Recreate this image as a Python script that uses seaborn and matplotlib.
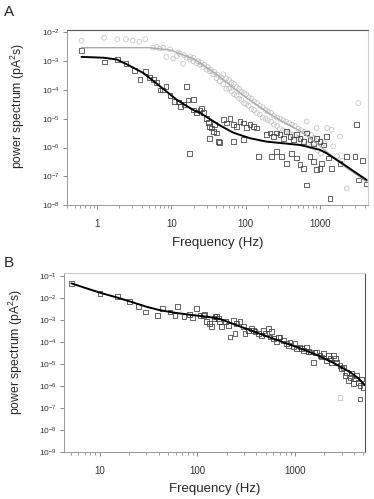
import numpy as np
import pandas as pd
import matplotlib
matplotlib.use("Agg")
import matplotlib.pyplot as plt
import matplotlib.ticker as mticker
import seaborn as sns

# --- panel A: dark squares (data) -------------------------------------------
a_sq_f = [0.62, 1.25, 1.88, 2.46, 3.2, 3.8, 4.46, 5.05, 5.7, 6.35, 7.05, 7.65, 8.5, 9.6,
          10.96, 12.4, 13.3, 14.8, 16.1, 16.8, 17.8, 19.7, 19.7, 21.8, 24.3, 25.6, 26.9,
          29.8, 31.4, 33, 33, 34.9, 36.7, 38.6, 40.8, 42.8, 45, 50, 55.7, 61.7, 68.3, 68.3,
          75.9, 84, 93, 93, 103.5, 114.6, 127, 141, 148, 192, 213, 224, 236, 262, 262, 290,
          306, 322, 357, 357, 396, 417, 439, 487, 487, 540, 540, 598, 598, 664, 664, 736,
          736, 815, 815, 905, 905, 1003, 1003, 1057, 1111, 1235, 1297, 1368, 1442, 1864,
          2295, 2965, 3130, 3290, 3770, 4265]
a_sq_p = [2.4e-3, 9.3e-4, 1.15e-3, 8.1e-4, 4.6e-4, 2.3e-4, 4.3e-4, 2.75e-4, 2.3e-4, 1.8e-4,
          1.0e-4, 1.0e-4, 1.3e-4, 6.3e-5, 4.0e-5, 3.8e-5, 2.7e-5, 3.1e-5, 1.3e-4, 4.5e-5,
          6.3e-7, 4.6e-5, 2.0e-5, 1.6e-5, 1.9e-5, 2.3e-5, 1.7e-5, 1.05e-5, 7.6e-6, 5.4e-6,
          2.1e-6, 4.8e-6, 3.5e-6, 6.2e-6, 3.2e-6, 1.6e-6, 1.45e-6, 9.3e-6, 7.1e-6, 1.05e-5,
          6.2e-6, 1.6e-6, 5.4e-6, 8.1e-6, 7.1e-6, 1.9e-6, 5.0e-6, 6.2e-6, 5.4e-6, 4.8e-6,
          4.9e-7, 2.75e-6, 3.2e-6, 4.9e-7, 2.4e-6, 3.2e-6, 7.2e-7, 2.75e-6, 4.9e-7, 2.1e-6,
          3.6e-6, 2.8e-7, 2.4e-6, 6.3e-7, 1.9e-6, 2.75e-6, 4.3e-7, 2.1e-6, 2.5e-7, 1.6e-6,
          1.9e-7, 3.2e-6, 5.0e-8, 1.9e-6, 4.9e-7, 1.4e-6, 3.3e-7, 2.1e-6, 1.7e-7, 1.6e-6,
          1.9e-7, 2.8e-7, 1.23e-6, 2.4e-6, 4.3e-7, 1.7e-8, 1.9e-7, 2.8e-7, 4.9e-7, 4.9e-7,
          6.2e-6, 7.4e-8, 3.5e-7, 5.4e-8]

# --- panel A: grey circles (data) -------------------------------------------
a_ci_f = [0.62, 1.25, 1.88, 2.46, 3.02, 3.71, 4.46, 5.7, 6.35, 7.05, 7.8, 8.6, 9.6, 10.6,
          11.8, 12.5, 13.1, 14.5, 15, 16.1, 17.8, 18, 19.8, 20, 21.9, 23, 24.3, 25, 26.9, 28,
          29.9, 31, 33, 34, 36.7, 38, 40.8, 42, 45, 47,
          50, 50, 55, 55, 60, 60, 65, 65, 70, 70, 76, 76, 82, 82, 88, 88, 95, 95, 102, 102,
          110, 110, 120, 120, 130, 130, 142, 142, 155, 155, 170, 170, 185, 185, 200, 200,
          220, 220, 240, 240, 265, 265, 290, 290, 320, 320, 350, 350, 385, 385, 420, 420,
          460, 460, 510, 510, 560, 560, 620, 620, 690, 690, 760, 760, 840, 840, 930, 930,
          1030, 1030, 1150, 664, 905, 1250, 1442, 1500, 1700, 1860, 2000, 2295, 3290]
a_ci_p = [5.2e-3, 6.5e-3, 5.8e-3, 5.8e-3, 5.2e-3, 4.7e-3, 5.8e-3, 2.95e-3, 3.1e-3, 2.75e-3,
          2.95e-3, 1.4e-3, 2.6e-3, 1.23e-3, 1.5e-3, 2.0e-3, 1.8e-3, 8.1e-4, 1.6e-3, 1.3e-3,
          1.15e-3, 1.4e-3, 1.0e-3, 1.3e-3, 8.7e-4, 1.0e-3, 7.6e-4, 9.0e-4, 6.2e-4, 7.5e-4,
          5.1e-4, 6.3e-4, 4.5e-4, 5.0e-4, 3.5e-4, 4.2e-4, 2.6e-4, 3.4e-4, 2.0e-4, 2.8e-4,
          3.5e-4, 1.6e-4, 2.5e-4, 1.1e-4, 2.2e-4, 1.1e-4, 1.8e-4, 8.9e-5, 1.6e-4, 7.1e-5,
          1.26e-4, 6.3e-5, 1.1e-4, 5.0e-5, 8.9e-5, 4.5e-5, 7.9e-5, 3.5e-5, 7.1e-5, 3.2e-5,
          5.6e-5, 2.8e-5, 5.0e-5, 2.2e-5, 4.0e-5, 2.0e-5, 3.5e-5, 1.6e-5, 2.8e-5, 1.4e-5,
          2.5e-5, 1.1e-5, 2.0e-5, 1.0e-5, 1.8e-5, 8.9e-6, 1.6e-5, 7.9e-6, 1.26e-5, 6.3e-6,
          1.1e-5, 5.6e-6, 1.0e-5, 4.5e-6, 8.9e-6, 4.0e-6, 7.9e-6, 3.5e-6, 7.1e-6, 3.2e-6,
          6.3e-6, 2.8e-6, 5.6e-6, 2.5e-6, 4.5e-6, 2.2e-6, 4.0e-6, 2.0e-6, 3.5e-6, 1.6e-6,
          3.2e-6, 1.4e-6, 2.8e-6, 1.1e-6, 2.2e-6, 1.0e-6, 2.0e-6, 7.9e-7, 1.6e-6, 6.3e-7,
          1.4e-6, 8.1e-6, 4.8e-6, 4.8e-6, 4.2e-6, 1.1e-6, 5.0e-7, 2.4e-6, 3.5e-7, 3.8e-8, 3.5e-5]

# --- panel A: fitted curves -------------------------------------------------
a_fit_f = [0.62, 1.22, 1.84, 2.5, 4.2, 7.05, 11.8, 19.8, 24.4, 45, 68, 115, 192, 540,
           1003, 1235, 2000, 4265]
a_fit_p = [1.41e-3, 1.32e-3, 1.15e-3, 7.9e-4, 3.9e-4, 1.35e-4, 4.6e-5, 2.0e-5, 1.6e-5,
           5.9e-6, 3.3e-6, 2.1e-6, 1.6e-6, 1.23e-6, 8.3e-7, 6.3e-7, 2.8e-7, 7.4e-8]
a_gfit_f = [0.62, 5, 10, 20.8, 24.3, 40.8, 68.4, 100, 192, 300, 540, 800, 1235, 2000, 4265]
a_gfit_p = [2.95e-3, 2.95e-3, 2.4e-3, 1.15e-3, 8.7e-4, 3.5e-4, 1.17e-4, 5.6e-5, 1.74e-5,
            8.5e-6, 3.8e-6, 1.78e-6, 7.2e-7, 2.5e-7, 6.5e-8]

# --- panel B: squares -------------------------------------------------------
b_sq_f = [5.1, 10, 15.1, 20, 24.7, 29.4, 38.7, 44, 52.2, 58.8, 62.1, 72.7, 82.5, 89.2, 98.1,
          106, 115, 117, 124, 132, 140, 148, 151, 157, 164, 168, 177, 192, 207, 216, 233,
          243, 252, 273, 295, 307, 333, 360, 374, 389, 421, 455, 473, 493, 533, 555, 577,
          600, 649, 675, 703, 760, 822, 855, 889, 962, 1000, 1040, 1127, 1172, 1219, 1318,
          1371, 1426, 1542, 1603, 1670, 1806, 1879, 1954, 2113, 2198, 2285, 2377, 2477,
          2576, 2679, 2897, 3013, 3133, 3259, 3388, 3524, 3664, 3816, 3969, 4130, 4293,
          4467, 4643, 4827, 5020, 4643]
b_sq_p = [4.6e-2, 1.6e-2, 1.2e-2, 6.7e-3, 4.0e-3, 2.3e-3, 1.66e-3, 3.3e-3, 2.3e-3, 1.66e-3,
          4.0e-3, 1.4e-3, 1.8e-3, 1.26e-3, 3.3e-3, 1.66e-3, 1.66e-3, 1.8e-3, 8.2e-4, 6.9e-4,
          5.2e-4, 1.17e-3, 1.4e-3, 1.4e-3, 1.17e-3, 8.2e-4, 4.9e-4, 8.2e-4, 5.8e-4, 1.7e-4,
          9.8e-4, 2.4e-4, 6.9e-4, 8.2e-4, 4.9e-4, 2.4e-4, 3.4e-4, 4.1e-4, 3.4e-4, 2.9e-4,
          2.4e-4, 2.0e-4, 3.4e-4, 2.4e-4, 4.1e-4, 1.7e-4, 2.9e-4, 1.42e-4, 1.0e-4, 1.7e-4,
          1.7e-4, 1.2e-4, 8.4e-5, 7.1e-5, 1.0e-4, 5.9e-5, 8.4e-5, 5.0e-5, 5.9e-5, 5.0e-5,
          4.2e-5, 5.9e-5, 3.8e-5, 3.5e-5, 1.22e-5, 3.3e-5, 3.5e-5, 2.5e-5, 2.1e-5, 2.9e-5,
          1.46e-5, 2.5e-5, 1.74e-5, 1.22e-5, 2.5e-5, 1.74e-5, 1.22e-5, 8.6e-6, 6.1e-6, 7.2e-6,
          3.0e-6, 4.3e-6, 1.8e-6, 2.5e-6, 3.6e-6, 1.26e-6, 2.1e-6, 3.0e-6, 1.5e-6, 1.05e-6,
          2.1e-6, 8.9e-7, 2.6e-7]
b_lt_f = [2897]
b_lt_p = [3.1e-7]

b_fit_f = [5.1, 10, 15, 20, 30, 41, 60, 90, 130, 170, 233, 350, 513, 800, 1127, 1700,
           2477, 3664, 4500, 5200]
b_fit_p = [4.6e-2, 1.74e-2, 1.05e-2, 7.1e-3, 4.0e-3, 2.8e-3, 2.1e-3, 1.66e-3, 1.38e-3,
           1.12e-3, 6.6e-4, 3.4e-4, 1.82e-4, 8.9e-5, 5.2e-5, 2.5e-5, 1.12e-5, 4.3e-6,
           2.2e-6, 1.1e-6]

sns.set_style("white")
plt.rcParams["font.family"] = ["Liberation Sans", "DejaVu Sans"]
plt.rcParams["mathtext.default"] = "regular"

fig = plt.figure(figsize=(3.74, 4.99), dpi=100)
axA = fig.add_axes([0.179, 0.589, 0.805, 0.350])
axB = fig.add_axes([0.171, 0.094, 0.805, 0.359])

dark = "#3a3a3a"
grey = "#bdbdbd"

# panel A
sns.scatterplot(x=a_ci_f, y=a_ci_p, ax=axA, marker="o", s=12, facecolor="none",
                edgecolor=grey, linewidth=0.5, color=grey)
sns.lineplot(x=a_gfit_f, y=a_gfit_p, ax=axA, color="#aaaaaa", lw=1.0)
sns.scatterplot(x=a_sq_f, y=a_sq_p, ax=axA, marker="s", s=12, facecolor="none",
                edgecolor=dark, linewidth=0.55, color=dark)
sns.lineplot(x=a_fit_f, y=a_fit_p, ax=axA, color="black", lw=1.4)
axA.set(xscale="log", yscale="log", xlim=(0.395, 4440), ylim=(1e-8, 1.17e-2))
axA.set_yticks([10.0 ** k for k in range(-8, -1)])

# panel B
sns.scatterplot(x=b_lt_f, y=b_lt_p, ax=axB, marker="s", s=12, facecolor="none",
                edgecolor=grey, linewidth=0.5, color=grey)
sns.scatterplot(x=b_sq_f, y=b_sq_p, ax=axB, marker="s", s=12, facecolor="none",
                edgecolor=dark, linewidth=0.55, color=dark)
sns.lineplot(x=b_fit_f, y=b_fit_p, ax=axB, color="black", lw=1.4)
axB.set(xscale="log", yscale="log", xlim=(4.28, 5220), ylim=(1e-9, 0.137))
axB.set_yticks([10.0 ** k for k in range(-9, 0)])

for ax, top_c, right_c, xl, yl, yc in [(axA, "#555555", "#cccccc", -0.183, -0.133, 0.57),
                                       (axB, "#cccccc", "#555555", -0.173, -0.13, 0.56)]:
    ax.xaxis.set_major_formatter(mticker.FuncFormatter(lambda v, _: f"{v:g}"))
    ax.xaxis.set_minor_formatter(mticker.NullFormatter())
    ax.yaxis.set_minor_locator(mticker.NullLocator())
    ax.tick_params(axis="both", which="major", direction="out", length=3, width=0.6,
                   color="#777777", labelcolor="#333333")
    ax.tick_params(axis="x", which="major", labelsize=7, pad=7)
    ax.tick_params(axis="y", which="major", labelsize=6, pad=2)
    ax.tick_params(axis="x", which="minor", direction="out", length=2, width=0.5,
                   color="#777777")
    ax.tick_params(bottom=True, left=True, which="both")
    for s in ["left", "bottom"]:
        ax.spines[s].set_color("#999999")
        ax.spines[s].set_linewidth(0.7)
    ax.spines["top"].set_color(top_c)
    ax.spines["right"].set_color(right_c)
    ax.spines["top"].set_linewidth(0.8)
    ax.spines["right"].set_linewidth(0.8)
    ax.set_xlabel("Frequency (Hz)", fontsize=9.5)
    ax.set_ylabel("power spectrum (pA$^2$s)", fontsize=8.8)
    ax.xaxis.set_label_coords(0.5, xl)
    ax.yaxis.set_label_coords(yl, yc)

fig.text(0.01, 0.99, "A", fontsize=11, va="top", ha="left")
fig.text(0.01, 0.487, "B", fontsize=11, va="top", ha="left")

fig.savefig("out.png", dpi=100)
